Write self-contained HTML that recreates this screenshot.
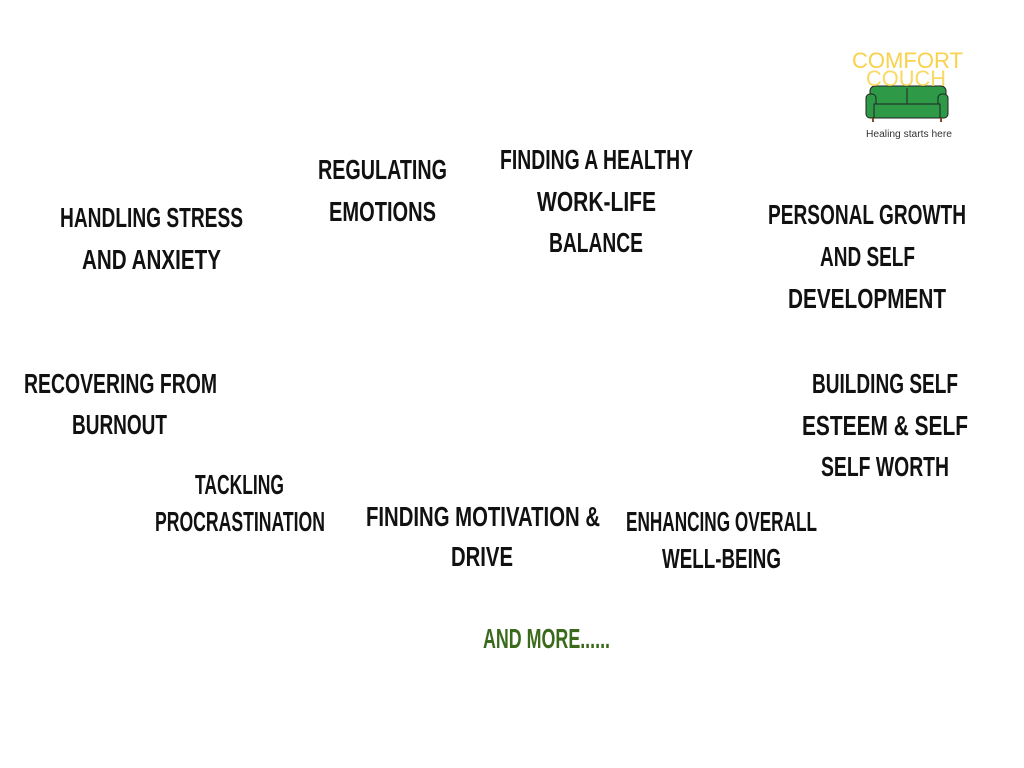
<!DOCTYPE html>
<html><head><style>
html,body{margin:0;padding:0;background:#fff;}
</style></head><body>
<svg width="1024" height="768" xmlns="http://www.w3.org/2000/svg" style="display:block">
<rect width="1024" height="768" fill="#fff"/>
<g font-family="Liberation Sans Narrow, Liberation Sans, sans-serif" font-weight="bold" font-size="28" fill="#111" lengthAdjust="spacingAndGlyphs">
<text x="60" y="227" textLength="183" lengthAdjust="spacingAndGlyphs">HANDLING STRESS</text>
<text x="82" y="269" textLength="139" lengthAdjust="spacingAndGlyphs">AND ANXIETY</text>
<text x="318" y="179" textLength="129" lengthAdjust="spacingAndGlyphs">REGULATING</text>
<text x="329" y="221" textLength="107" lengthAdjust="spacingAndGlyphs">EMOTIONS</text>
<text x="500" y="169" textLength="193" lengthAdjust="spacingAndGlyphs">FINDING A HEALTHY</text>
<text x="537" y="211" textLength="119" lengthAdjust="spacingAndGlyphs">WORK-LIFE</text>
<text x="549" y="252" textLength="94" lengthAdjust="spacingAndGlyphs">BALANCE</text>
<text x="768" y="224" textLength="198" lengthAdjust="spacingAndGlyphs">PERSONAL GROWTH</text>
<text x="820" y="266" textLength="95" lengthAdjust="spacingAndGlyphs">AND SELF</text>
<text x="788" y="308" textLength="158" lengthAdjust="spacingAndGlyphs">DEVELOPMENT</text>
<text x="24" y="393" textLength="193" lengthAdjust="spacingAndGlyphs">RECOVERING FROM</text>
<text x="72" y="434" textLength="95" lengthAdjust="spacingAndGlyphs">BURNOUT</text>
<text x="812" y="393" textLength="146" lengthAdjust="spacingAndGlyphs">BUILDING SELF</text>
<text x="802" y="435" textLength="166" lengthAdjust="spacingAndGlyphs">ESTEEM &amp; SELF</text>
<text x="821" y="476" textLength="128" lengthAdjust="spacingAndGlyphs">SELF WORTH</text>
<text x="195" y="494" textLength="89" lengthAdjust="spacingAndGlyphs">TACKLING</text>
<text x="155" y="531" textLength="170" lengthAdjust="spacingAndGlyphs">PROCRASTINATION</text>
<text x="366" y="526" textLength="234" lengthAdjust="spacingAndGlyphs">FINDING MOTIVATION &amp;</text>
<text x="451" y="566" textLength="62" lengthAdjust="spacingAndGlyphs">DRIVE</text>
<text x="626" y="531" textLength="191" lengthAdjust="spacingAndGlyphs">ENHANCING OVERALL</text>
<text x="662" y="568" textLength="119" lengthAdjust="spacingAndGlyphs">WELL-BEING</text>
<text x="483" y="648" textLength="127" lengthAdjust="spacingAndGlyphs" fill="#3b6a1c">AND MORE......</text>
</g>
<!-- logo -->
<g>
<rect x="870" y="86" width="76" height="22" rx="5" fill="#2e9a48" stroke="#222" stroke-width="1"/>
<rect x="866" y="94" width="10" height="24" rx="4" fill="#2e9a48" stroke="#222" stroke-width="1"/>
<rect x="938" y="94" width="10" height="24" rx="4" fill="#2e9a48" stroke="#222" stroke-width="1"/>
<rect x="874" y="104" width="66" height="14" fill="#2e9a48" stroke="#222" stroke-width="1"/>
<line x1="907" y1="88" x2="907" y2="104" stroke="#222" stroke-width="1"/>
<rect x="872" y="118" width="2" height="4" fill="#8b4a1c"/>
<rect x="940" y="118" width="2" height="4" fill="#8b4a1c"/>
<text x="852" y="68" font-family="Liberation Sans, sans-serif" font-size="22" fill="#f7d24a" textLength="111" lengthAdjust="spacingAndGlyphs">COMFORT</text>
<text x="866" y="86" font-family="Liberation Sans, sans-serif" font-size="22" fill="#f7d24a" fill-opacity="0.85" textLength="80" lengthAdjust="spacingAndGlyphs">COUCH</text>
<text x="866" y="137" font-family="Liberation Sans, sans-serif" font-size="10" fill="#333" textLength="86" lengthAdjust="spacingAndGlyphs">Healing starts here</text>
</g>
</svg>
</body></html>
